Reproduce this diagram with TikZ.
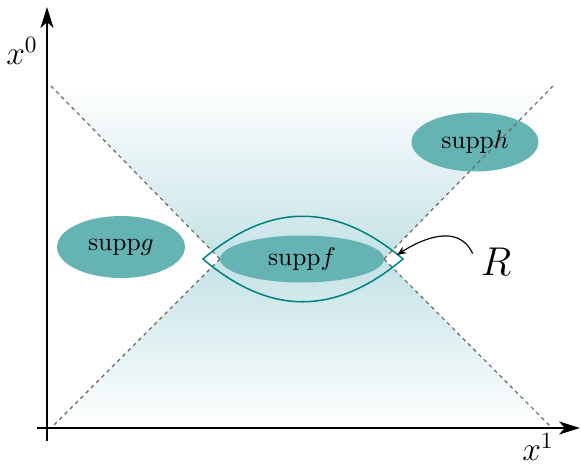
\documentclass[tikz,border=0pt]{standalone}
\usepackage{amsmath}
\usepackage{tikz}
\usetikzlibrary{arrows.meta, shapes.geometric}
\definecolor{conelight}{RGB}{196,226,230}
\definecolor{blobteal}{RGB}{102,179,179}
\definecolor{lensteal}{RGB}{0,128,128}

\tikzset{
  suppblob/.style={ellipse, fill=blobteal, inner sep=0pt, font=\fontsize{11}{13}\selectfont},
  coneline/.style={black!60, line width=0.5pt, dash pattern=on 1.6pt off 1.6pt},
  axisline/.style={line width=0.7pt, -{Stealth[length=9pt, width=5.6pt, inset=2.5pt]}},
  axislabel/.style={font=\Large, inner sep=0pt}
}

\begin{document}
\begin{tikzpicture}[x=0.0151cm, y=-0.0151cm]
  \useasboundingbox (0,0) rectangle (581,464);
  \coordinate (tipL) at (220,259);
  \coordinate (tipR) at (384,259);
  \coordinate (topL) at (51,86);
  \coordinate (topR) at (553,86);
  \coordinate (botL) at (52,427);
  \coordinate (botR) at (551,427);
  \shade[top color=white, bottom color=conelight]
    (topL) -- (topR) -- (tipR) -- (tipL) -- cycle;
  \shade[top color=conelight, bottom color=white]
    (tipL) -- (tipR) -- (botR) -- (botL) -- cycle;
  \node[suppblob, minimum width=1.933cm, minimum height=0.936cm]
    (suppg) at (121,247) {$\mathrm{supp}g$};
  \node[suppblob, minimum width=1.918cm, minimum height=0.891cm]
    (supph) at (475,142) {$\mathrm{supp}h$};
  \draw[coneline] (tipL) -- (topL);
  \draw[coneline] (tipL) -- (botL);
  \draw[coneline] (tipR) -- (topR);
  \draw[coneline] (tipR) -- (botR);
  \node[suppblob, minimum width=2.476cm, minimum height=0.71cm]
    (suppf) at (302,259) {$\mathrm{supp}f$};
  \coordinate (lensL) at (203,259);
  \coordinate (lensR) at (403,259);
  \draw[lensteal, line width=0.65pt]
    (lensL) .. controls (270,202) and (335,202) .. (lensR)
    .. controls (335,316) and (270,316) .. (lensL) -- cycle;
  \node[font=\fontsize{16}{19}\selectfont] (R) at (496,262) {$R$};
  \coordinate (lensmark) at (397,255);
  \draw[line width=0.5pt, -{Stealth[length=4pt, width=3.2pt]}]
    (R.160) .. controls (458,222) and (420,240) .. (lensmark);
  \coordinate (ybot) at (47,441);
  \coordinate (ytop) at (47,7);
  \coordinate (xleft) at (37,428);
  \coordinate (xright) at (580,428);
  \draw[axisline] (ybot) -- (ytop);
  \draw[axisline] (xleft) -- (xright);
  \node[axislabel] (xzero) at (22,51) {$x^0$};
  \node[axislabel] (xone) at (538,447) {$x^1$};
\end{tikzpicture}
\end{document}
